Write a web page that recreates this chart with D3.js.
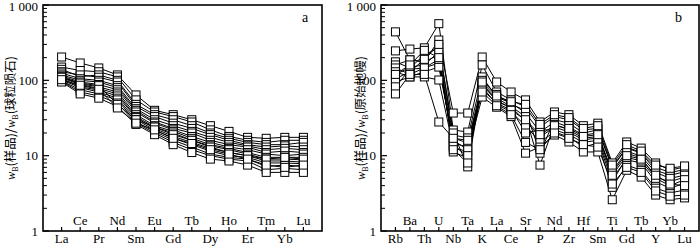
<!DOCTYPE html>
<html><head><meta charset="utf-8">
<script src="https://cdn.jsdelivr.net/npm/d3@7"></script>
<style>
html,body{margin:0;padding:0;background:#fff;}
svg{display:block;}
</style></head>
<body>
<svg id="c" width="700" height="246"></svg>
<script>
// ---- data ----
const reeElements = ["La","Ce","Pr","Nd","Sm","Eu","Gd","Tb","Dy","Ho","Er","Tm","Yb","Lu"];
const reeValues = [
  [204,170,146,118,64,40,35,30,25,21,17.5,17,17.5,17.5],
  [150,135,130,111,55,38,33,28,22,18,16,15,16,16],
  [140,112,118,100,48,35,30,25,20,17,15,14,14,15],
  [130,118,110,95,45,33,27,23,19,16,14,13,13.5,13],
  [125,105,100,85,42,30,25,21,17.5,15,13.5,12,12.5,12],
  [118,100,95,80,40,28,23,20,16,14,13,11,11.5,11],
  [114,95,88,75,38,27,22,18,15,13,12,10.5,10,10.5],
  [111,90,82,70,35,25,21,17,14,12.5,11,9.5,9.5,9.5],
  [108,88,78,66,33,24,20,16,13.5,12,10.5,9,9,8.8],
  [105,82,74,62,32,23,18,15,12.5,11,10,8.5,8.5,8.2],
  [101,80,70,58,30,22,17,14,11.5,10,9.5,8,8,7.8],
  [98,75,66,55,28,21,16,13,10.5,9.5,9,7.2,7.5,7.2],
  [97,70,62,50,27,20,15,12,10,9,8.5,6.5,6.8,6.5],
  [95,66,58,45,26,19,14,11,9,8.5,7.5,6,6,6],
  [110,92,85,48,30,24,19,16,13,11,10,9,9.5,9],
  [102,86,76,43,27,22,17,14.5,12,10.5,9,7.5,7,7.5]
];
const spiderElements = ["Rb","Ba","Th","U","Nb","Ta","K","La","Ce","Sr","P","Nd","Zr","Hf","Sm","Ti","Gd","Tb","Y","Yb","Lu"];
const spiderValues = [
  [440,187,176,343,36.8,36.8,204,95,70,55,28,38,35,25,27,8,15.2,12.6,8,6.4,7.1],
  [246,260,270,565,21.9,20.6,160,70,55,44,24,33,30,22,23,6.9,12.6,10.8,6.4,5.5,6.1],
  [176,146,218,270,18.8,17.2,111,60,50,37,20.6,28,24,18.8,20,5.9,10.8,9.3,5.2,4.5,5.2],
  [160,187,176,218,17.2,14.7,92,52,44,29,17.7,24,20.6,16.2,17.2,5.1,8.8,8,4.5,3.7,4.3],
  [146,120,146,170,14.7,13,82,48,38,25,15.2,20.6,17.7,13,14.7,3.8,7.5,6.4,3.7,3.2,3.5],
  [130,111,111,101,13,11.2,60,44,33,10.8,13,18.8,15.2,11.2,11.2,2.6,6.4,5.2,3.0,2.6,2.75],
  [118,150,160,240,11.2,9.3,100,65,48,40,10.8,30,27,20,22,7,13,11,7,6,6.5],
  [105,130,190,300,20,7.1,90,58,45,33,7.5,26,22,17,18,6.2,11.5,9.8,6,5,5.5],
  [95,111,130,150,16,12,85,55,42,20,22,22,19,15,16,4.5,9.5,8.5,5,4,4.8],
  [82,140,146,190,13.5,10,75,50,40,30,19,25,23,18,19,5.5,10,9,5.5,4.2,4],
  [66,120,120,28,17,16,70,46,35,15,12,20,17,14,13,4.2,7,6,3.4,2.9,3.0],
  [120,160,250,200,12,8,95,62,52,48,26,35,32,23,25,7.5,14,11.5,7.5,6.8,7.3]
];
const yTickValues = [1,10,100,1000];
const yTickLabels = ["1","10","100","1 000"];

// ---- drawing ----
const SERIF = "'Liberation Serif', 'DejaVu Serif', serif";
const svg = d3.select("#c");

function panel(opts){
  const {x0,x1,y0,y1,elements,values,letter,ylabel,labelX,letterX} = opts;
  const g = svg.append("g").attr("font-family",SERIF);
  const x = d3.scalePoint().domain(elements).range([x0,x1]).padding(1);
  const y = d3.scaleLog().domain([1,1000]).range([y1,y0]);

  const minors = [];
  for (let d=1; d<1000; d*=10) for (let k=2;k<=9;k++) minors.push(d*k);
  g.selectAll(".mn").data(minors).enter().append("line")
    .attr("x1",x0).attr("x2",x0+4)
    .attr("y1",d=>y(d)).attr("y2",d=>y(d))
    .attr("stroke","#000").attr("stroke-width",1);
  g.selectAll(".mj").data(yTickValues).enter().append("line")
    .attr("x1",x0).attr("x2",x0+6)
    .attr("y1",d=>y(d)).attr("y2",d=>y(d))
    .attr("stroke","#000").attr("stroke-width",1.2);
  g.selectAll(".yl").data(yTickValues).enter().append("text")
    .attr("x",x0-5).attr("y",d=>Math.max(y(d),6)).attr("dy","0.35em")
    .attr("text-anchor","end").attr("font-size",13)
    .attr("font-family",SERIF)
    .text((d,i)=>yTickLabels[i]);

  g.selectAll(".xt").data(elements).enter().append("line")
    .attr("x1",d=>x(d)).attr("x2",d=>x(d))
    .attr("y1",y1).attr("y2",y1-4)
    .attr("stroke","#000").attr("stroke-width",1.2);
  g.selectAll(".xl").data(elements).enter().append("text")
    .attr("x",d=>x(d))
    .attr("y",(d,i)=> i%2===0 ? y1+12 : y1-6)
    .attr("text-anchor","middle").attr("font-size",13)
    .attr("font-family",SERIF)
    .text(d=>d);

  const line = d3.line().x((v,i)=>x(elements[i])).y(v=>y(v));
  g.selectAll(".ln").data(values).enter().append("path")
    .attr("d",line).attr("fill","none").attr("stroke","#000").attr("stroke-width",1);
  const s = 8;
  values.forEach(row=>{
    g.selectAll(null).data(row).enter().append("rect")
      .attr("x",(v,i)=>x(elements[i])-s/2).attr("y",v=>y(v)-s/2)
      .attr("width",s).attr("height",s)
      .attr("fill","#fff").attr("stroke","#000").attr("stroke-width",1);
  });

  g.append("rect").attr("x",x0).attr("y",y0).attr("width",x1-x0).attr("height",y1-y0)
    .attr("fill","none").attr("stroke","#000").attr("stroke-width",1.6);

  g.append("text").attr("x",letterX).attr("y",y0+17).attr("font-size",14)
    .attr("font-family",SERIF).text(letter);

  const yl = g.append("text")
    .attr("transform",`translate(${labelX},${(y0+y1)/2}) rotate(-90)`)
    .attr("text-anchor","middle").attr("font-size",12.5).attr("font-family",SERIF);
  yl.append("tspan").attr("font-style","italic").text("w");
  yl.append("tspan").attr("font-size",8).attr("dy",3).text("B");
  yl.append("tspan").attr("dy",-3).attr("font-family","'Noto Sans CJK SC'").text("(样品)/");
  yl.append("tspan").attr("font-style","italic").text("w");
  yl.append("tspan").attr("font-size",8).attr("dy",3).text("B");
  yl.append("tspan").attr("dy",-3).attr("font-family","'Noto Sans CJK SC'").text(ylabel);
}

panel({x0:43,x1:322,y0:5,y1:231,elements:reeElements,values:reeValues,letter:"a",
  ylabel:"(球粒陨石)",labelX:15,letterX:302});
panel({x0:381,x1:699,y0:5,y1:231,elements:spiderElements,values:spiderValues,letter:"b",
  ylabel:"(原始地幔)",labelX:365,letterX:675});
</script>
</body></html>
